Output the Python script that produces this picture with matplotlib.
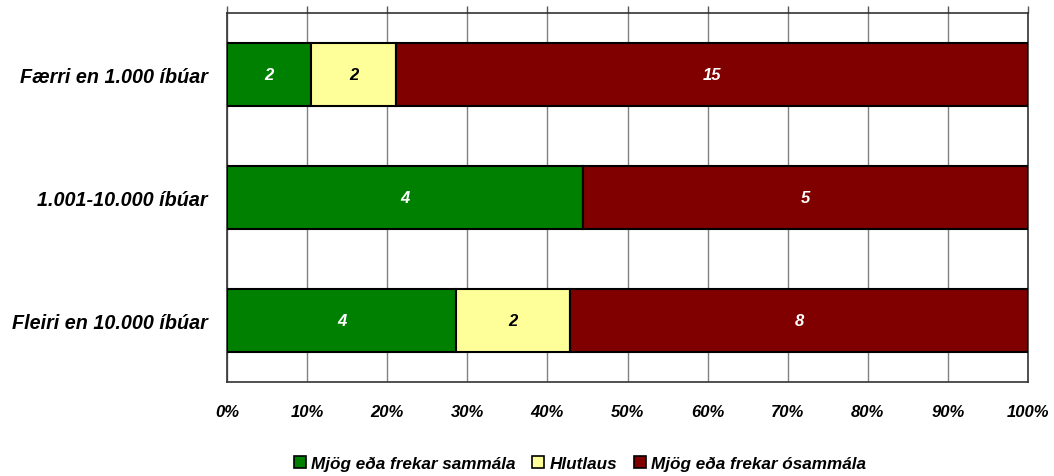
import matplotlib
matplotlib.use("Agg")
import matplotlib.pyplot as plt
import numpy as np
from matplotlib.patches import Patch

categories = ["Færri en 1.000 íbúar", "1.001-10.000 íbúar", "Fleiri en 10.000 íbúar"]
series_names = ["Mjög eða frekar sammála", "Hlutlaus", "Mjög eða frekar ósammála"]
agree = [2, 4, 4]
neutral = [2, 0, 2]
disagree = [15, 5, 8]
colors = ["#008000", "#FFFF99", "#800000"]
text_colors = ["white", "black", "white"]
xticklabels = ["0%", "10%", "20%", "30%", "40%", "50%", "60%", "70%", "80%", "90%", "100%"]

plt.rcParams['font.family'] = ['Liberation Sans', 'DejaVu Sans']

fig = plt.figure(figsize=(10.54, 4.77), dpi=100)
W, H = 1054, 477
ax = fig.add_axes([227 / W, 1 - 383 / H, (1028 - 227) / W, (383 - 14) / H])

data = np.array([agree, neutral, disagree], dtype=float)
totals = data.sum(axis=0)
shares = data / totals
y = np.arange(len(categories))
left = np.zeros(len(categories))
for i in range(len(series_names)):
    ax.barh(y, shares[i], left=left, height=0.52, color=colors[i],
            edgecolor="black", linewidth=1.5, zorder=3)
    for j in range(len(categories)):
        if data[i, j] > 0:
            ax.text(left[j] + shares[i, j] / 2, y[j], f"{int(data[i, j])}",
                    ha="center", va="center", color=text_colors[i],
                    fontsize=12, fontweight="bold", fontstyle="italic", zorder=4)
    left = left + shares[i]

ax.set_xlim(0, 1)
ax.set_ylim(2.5, -0.5)
ax.set_xticks(np.linspace(0, 1, 11))
ax.set_xticklabels(xticklabels, fontsize=12, fontweight="bold", fontstyle="italic")
ax.set_yticks(y)
ax.set_yticklabels(categories, fontsize=14.2, fontweight="bold", fontstyle="italic")
ax.tick_params(axis="y", length=0, pad=14)
ax.tick_params(axis="x", bottom=False, top=True, labelbottom=True, labeltop=False,
               length=5, width=1, color="#555555", pad=11, direction="out")
ax.grid(axis="x", color="#808080", linewidth=1, zorder=0)
for s in ax.spines.values():
    s.set_color("#333333")
    s.set_linewidth(1.2)

handles = [Patch(facecolor=c, edgecolor="black", linewidth=1.2) for c in colors]
fig.legend(handles, series_names, loc="center", bbox_to_anchor=(580 / W, 1 - 464 / H),
           ncol=3, frameon=False, handlelength=0.7, handleheight=0.7, handletextpad=0.3,
           columnspacing=1.0,
           prop={"size": 12.3, "weight": "bold", "style": "italic"})

fig.savefig("out.png", dpi=100)
